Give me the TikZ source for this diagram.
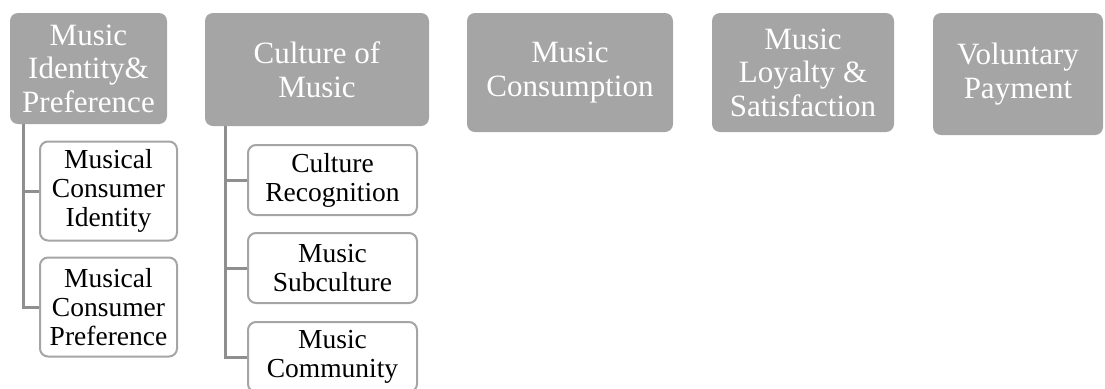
\documentclass[tikz,border=0pt]{standalone}
\usepackage{fontspec}
\setmainfont{Liberation Serif}
\usepackage{tikz}

\definecolor{boxgray}{HTML}{A5A5A5}
\definecolor{linegray}{HTML}{8F8F8F}

\begin{document}
\begin{tikzpicture}[x=0.5pt,y=-0.5pt,
  topbox/.style={fill=boxgray,rounded corners=4pt,inner sep=0pt,align=center,
    text=white,font=\fontsize{15.5}{16.8}\selectfont},
  subbox/.style={draw=boxgray,line width=1pt,fill=white,rounded corners=4pt,
    inner sep=0pt,align=center,font=\fontsize{13.75}{14.5}\selectfont},
  link/.style={draw=linegray,line width=1.5pt}]
\useasboundingbox (0,0) rectangle (1105,388);

\node [topbox,minimum width=78.5pt,minimum height=55.5pt] (ident) at (88.5,68.5) {Music\\Identity\&\\Preference};
\node [topbox,minimum width=112pt,minimum height=56.5pt] (cult) at (317,69.5) {Culture of\\Music};
\node [topbox,minimum width=103pt,minimum height=59.5pt] (cons) at (570,72.5) {Music\\Consumption};
\node [topbox,minimum width=91pt,minimum height=59.5pt] (loyal) at (803,72.5) {Music\\Loyalty \&\\Satisfaction};
\node [topbox,minimum width=85pt,minimum height=61pt] (pay) at (1018,74) {Voluntary\\Payment};

\node [subbox,minimum width=68.5pt,minimum height=49.5pt] (cid) at (108.5,191) {Musical\\Consumer\\Identity};
\node [subbox,minimum width=68.5pt,minimum height=49.5pt] (cpref) at (108.5,307) {Musical\\Consumer\\Preference};

\node [subbox,minimum width=84.5pt,minimum height=35pt] (crec) at (332.5,180) {Culture\\Recognition};
\node [subbox,minimum width=84.5pt,minimum height=35pt] (subc) at (332.5,268) {Music\\Subculture};
\node [subbox,minimum width=84.5pt,minimum height=35pt] (comm) at (332.5,357) {Music\\Community};

\draw [link] ([xshift=7pt]ident.south west) |- (cid.west);
\draw [link] ([xshift=7pt]ident.south west) |- (cpref.west);
\draw [link] ([xshift=10.5pt]cult.south west) |- (crec.west);
\draw [link] ([xshift=10.5pt]cult.south west) |- (subc.west);
\draw [link] ([xshift=10.5pt]cult.south west) |- (comm.west);

\end{tikzpicture}
\end{document}
